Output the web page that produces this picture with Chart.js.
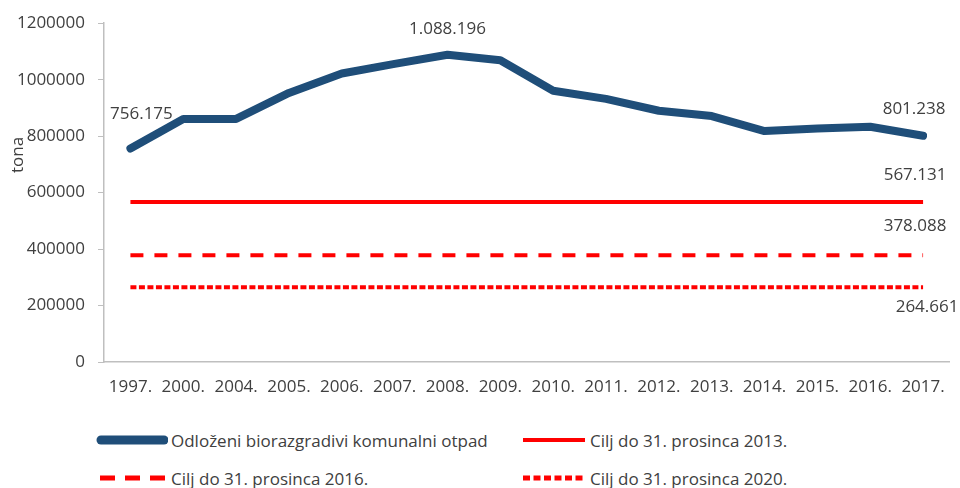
<!DOCTYPE html>
<html>
<head>
<meta charset="utf-8">
<script src="https://cdn.jsdelivr.net/npm/chart.js@4"></script>
<style>
  body { margin: 0; background: #fff; font-family: "Open Sans", sans-serif; }
  #wrap { position: relative; width: 960px; height: 488px; }
  #chartBox { position: absolute; left: 0; top: 0; width: 960px; height: 410px; }
  .leg { position: absolute; display: flex; align-items: center; font-size: 17px; color: #404040; height: 24px; }
  .leg svg { margin-right: 3px; }
</style>
</head>
<body>
<div id="wrap">
  <div id="chartBox"><canvas id="myChart"></canvas></div>
  <div class="leg" style="left:96px; top:428px;">
    <svg width="72" height="12"><line x1="5" y1="6" x2="68" y2="6" stroke="#1f4e79" stroke-width="9" stroke-linecap="round"/></svg>
    <span>Odloženi biorazgradivi komunalni otpad</span>
  </div>
  <div class="leg" style="left:521px; top:428px;">
    <svg width="66" height="12"><line x1="2" y1="6" x2="64" y2="6" stroke="#ff0000" stroke-width="4"/></svg>
    <span>Cilj do 31. prosinca 2013.</span>
  </div>
  <div class="leg" style="left:98px; top:466px;">
    <svg width="70" height="12"><line x1="2" y1="6" x2="67" y2="6" stroke="#ff0000" stroke-width="5" stroke-dasharray="15 10"/></svg>
    <span>Cilj do 31. prosinca 2016.</span>
  </div>
  <div class="leg" style="left:521px; top:466px;">
    <svg width="66" height="12"><line x1="2" y1="6" x2="64" y2="6" stroke="#ff0000" stroke-width="5" stroke-dasharray="7 3.5"/></svg>
    <span>Cilj do 31. prosinca 2020.</span>
  </div>
</div>
<script>
const years = ["1997.", "2000.", "2004.", "2005.", "2006.", "2007.", "2008.", "2009.", "2010.", "2011.", "2012.", "2013.", "2014.", "2015.", "2016.", "2017."];
const otpad = [756175, 861000, 861000, 953000, 1022000, 1056000, 1088196, 1069000, 961000, 932000, 890000, 871000, 818000, 827000, 833000, 801238];
const cilj2013 = [567131, 567131, 567131, 567131, 567131, 567131, 567131, 567131, 567131, 567131, 567131, 567131, 567131, 567131, 567131, 567131];
const cilj2016 = [378088, 378088, 378088, 378088, 378088, 378088, 378088, 378088, 378088, 378088, 378088, 378088, 378088, 378088, 378088, 378088];
const cilj2020 = [264661, 264661, 264661, 264661, 264661, 264661, 264661, 264661, 264661, 264661, 264661, 264661, 264661, 264661, 264661, 264661];

const textColor = "#404040";
const font = { family: "'Open Sans', sans-serif", size: 17 };

// which points get a value label, and where it sits relative to the point
const labelSpots = [
  { ds: 0, i: 0, dx: 11, dy: -34 },
  { ds: 0, i: 6, dx: 0, dy: -26 },
  { ds: 0, i: 15, dx: -9, dy: -27 },
  { ds: 1, i: 15, dx: -8, dy: -27 },
  { ds: 2, i: 15, dx: -8, dy: -29 },
  { ds: 3, i: 15, dx: 4, dy: 20 },
];

function fmt(v) {
  return String(v).replace(/\B(?=(\d{3})+(?!\d))/g, ".");
}

const valueLabels = {
  id: "valueLabels",
  afterDatasetsDraw(chart) {
    const c = chart.ctx;
    c.save();
    c.font = "17px 'Open Sans', sans-serif";
    c.fillStyle = textColor;
    c.textAlign = "center";
    c.textBaseline = "middle";
    labelSpots.forEach((s) => {
      const pt = chart.getDatasetMeta(s.ds).data[s.i];
      const v = chart.data.datasets[s.ds].data[s.i];
      c.fillText(fmt(v), pt.x + s.dx, pt.y + s.dy);
    });
    // axis title
    c.translate(18, 155);
    c.rotate(-Math.PI / 2);
    c.fillText("tona", 0, 0);
    c.restore();
  },
};

Chart.defaults.font = font;
Chart.defaults.color = textColor;

const ctx = document.getElementById("myChart");
new Chart(ctx, {
  type: "line",
  data: {
    labels: years,
    datasets: [
      {
        label: "Odloženi biorazgradivi komunalni otpad",
        data: otpad,
        borderColor: "#1f4e79",
        borderWidth: 8,
        borderCapStyle: "round",
        borderJoinStyle: "round",
      },
      {
        label: "Cilj do 31. prosinca 2013.",
        data: cilj2013,
        borderColor: "#ff0000",
        borderWidth: 4,
      },
      {
        label: "Cilj do 31. prosinca 2016.",
        data: cilj2016,
        borderColor: "#ff0000",
        borderWidth: 4,
        borderDash: [13, 11],
      },
      {
        label: "Cilj do 31. prosinca 2020.",
        data: cilj2020,
        borderColor: "#ff0000",
        borderWidth: 4,
        borderDash: [6, 2.5],
      },
    ],
  },
  options: {
    animation: false,
    responsive: true,
    maintainAspectRatio: false,
    elements: { point: { radius: 0 }, line: { tension: 0 } },
    layout: { padding: { top: 20, right: 8, left: 0, bottom: 0 } },
    scales: {
      x: {
        offset: true,
        grid: { display: true, drawOnChartArea: false, drawTicks: false },
        border: { display: true, color: "#bfbfbf", width: 1.5 },
        ticks: { autoSkip: false, maxRotation: 0, padding: 15 },
        afterFit: (s) => { s.height = 48; },
      },
      y: {
        min: 0,
        max: 1200000,
        grid: { display: true, drawOnChartArea: false, drawTicks: true, tickLength: 6, color: "#bfbfbf" },
        border: { display: true, color: "#bfbfbf", width: 1.5 },
        ticks: { stepSize: 200000, padding: 13, callback: (v) => String(v) },
        afterFit: (s) => { s.width = 104; },
      },
    },
    plugins: {
      legend: { display: false },
      tooltip: { enabled: false },
    },
  },
  plugins: [valueLabels],
});
</script>
</body>
</html>
